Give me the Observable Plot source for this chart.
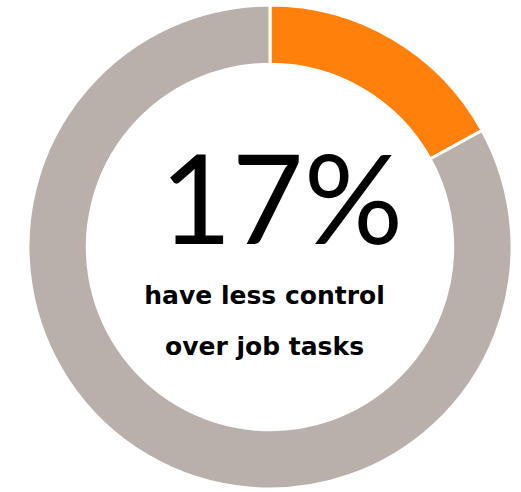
<!DOCTYPE html>
<html>
<head>
<meta charset="utf-8">
<script src="https://cdn.jsdelivr.net/npm/d3@7"></script>
<script src="https://cdn.jsdelivr.net/npm/@observablehq/plot@0.6"></script>
<style>
  html, body { margin: 0; padding: 0; background: #fff; }
</style>
</head>
<body>
<div id="chart"></div>
<script>
// Data
const categories = ["Have less control over job tasks", "Other"];
const shares = [17, 83];
const sliceColors = ["#FF800A", "#B9B0AB"];
const bigLabel = "17%";
const captionLines = ["have less control", "over job tasks"];

const table = categories.map((c, i) => ({category: c, value: shares[i]}));

const innerRatio = 0.755;

// Custom donut mark that uses Plot's x/y scales for centre and radius
function donut(data) {
  return (index, scales) => {
    const cx = scales.x(0), cy = scales.y(0);
    const R = scales.x(1) - scales.x(0);
    const pie = d3.pie().sort(null).value(d => d.value)(data);
    const arc = d3.arc().innerRadius(R * innerRatio).outerRadius(R);
    const g = d3.create("svg:g").attr("transform", `translate(${cx},${cy})`);
    g.selectAll("path")
      .data(pie)
      .join("path")
      .attr("d", arc)
      .attr("fill", d => scales.color(d.data.category))
      .attr("stroke", "#fff")
      .attr("stroke-width", 3)
      .attr("stroke-linejoin", "miter");
    return g.node();
  };
}

const chart = Plot.plot({
  width: 521,
  height: 492,
  margin: 0,
  x: {domain: [-1, 1], range: [28, 512], axis: null},
  y: {domain: [-1, 1], range: [489, 5], axis: null},
  color: {domain: categories, range: sliceColors},
  style: {background: "#fff"},
  marks: [
    donut(table),
    Plot.text([bigLabel], {
      x: 0, y: 0, text: d => d, dx: 11, dy: -4,
      lineAnchor: "bottom", textAnchor: "middle",
      fontSize: 124, fontFamily: "Lato", fontWeight: 400, fill: "#000"
    }),
    Plot.text([captionLines[0]], {
      x: 0, y: 0, text: d => d, dx: -6, dy: 56,
      lineAnchor: "bottom", textAnchor: "middle",
      fontSize: 25, fontFamily: "DejaVu Sans", fontWeight: "bold", fill: "#000"
    }),
    Plot.text([captionLines[1]], {
      x: 0, y: 0, text: d => d, dx: -6, dy: 107,
      lineAnchor: "bottom", textAnchor: "middle",
      fontSize: 25, fontFamily: "DejaVu Sans", fontWeight: "bold", fill: "#000"
    })
  ]
});

document.getElementById("chart").appendChild(chart);
</script>
</body>
</html>
